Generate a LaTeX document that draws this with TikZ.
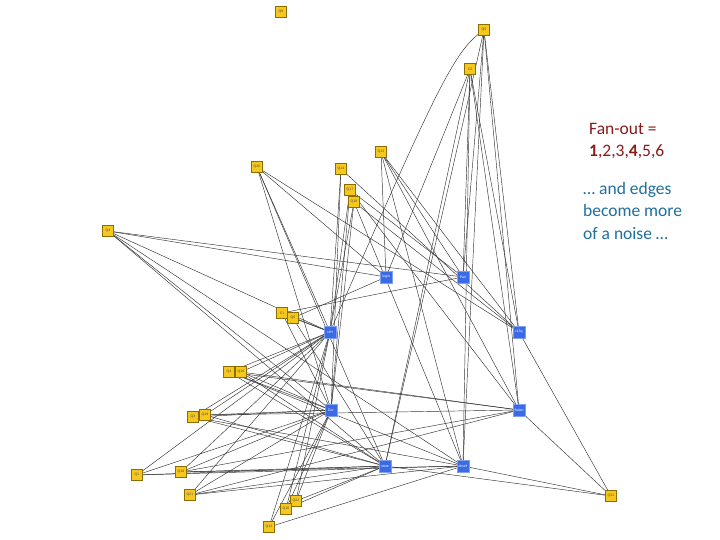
\documentclass[tikz,border=0pt]{standalone}
\usepackage{fontspec}
\setmainfont{Carlito}
\newfontfamily\lblfont{Liberation Sans}
\definecolor{qyel}{HTML}{F6C81E}
\definecolor{qyelb}{HTML}{8C6E00}
\definecolor{qblue}{HTML}{3A6AE6}
\definecolor{qblueb}{HTML}{7FA0F0}
\definecolor{fanred}{HTML}{8B1A1A}
\definecolor{noiseblue}{HTML}{1F6E9E}
\definecolor{edgec}{HTML}{333333}
\begin{document}
\begin{tikzpicture}[x=1pt,y=-1pt,
  qnode/.style={draw=qyelb,fill=qyel,line width=0.5pt,minimum size=11pt,inner sep=0pt,font=\lblfont\fontsize{3.5}{4}\selectfont,text=black!70},
  cnode/.style={draw=qblueb,fill=qblue,line width=0.5pt,minimum size=12pt,inner sep=0pt,font=\lblfont\fontsize{3.5}{4}\selectfont,text=white},
  edge/.style={draw=edgec,line width=0.45pt}]
\useasboundingbox (0,0) rectangle (720,540);
\path
 (281,12) coordinate (q9)
 (484,30) coordinate (q5)
 (470,69) coordinate (c2)
 (381,152) coordinate (q13)
 (257,167) coordinate (q20)
 (341,169) coordinate (q14)
 (350,190) coordinate (q17)
 (354,202) coordinate (q18)
 (108,231) coordinate (q4)
 (282,313) coordinate (c1)
 (293,318) coordinate (q6)
 (229,372) coordinate (q4b)
 (241,372) coordinate (q16)
 (193,417) coordinate (q3)
 (205,415) coordinate (q19)
 (137,475) coordinate (q1)
 (181,472) coordinate (q18b)
 (190,495) coordinate (q21)
 (296,501) coordinate (q22)
 (286,509) coordinate (q16b)
 (269,527) coordinate (q12)
 (611,496) coordinate (q31)
 (386,277) coordinate (login)
 (463,277) coordinate (pair)
 (330,332) coordinate (r4h)
 (519,332) coordinate (r13q)
 (331,410) coordinate (dor)
 (519,410) coordinate (balan)
 (385,466) coordinate (store)
 (463,466) coordinate (dmefi);
\foreach \a/\b in {q5/pair,q5/balan,q5/dmefi,q5/r13q,q5/store,
  c2/pair,c2/dmefi,c2/balan,c2/r13q,c2/login,c2/store,
  q13/pair,q13/r13q,q13/balan,q13/dmefi,q13/login,
  q20/r4h,q20/dor,q20/login,q20/store,q20/r13q,
  q14/r4h,q14/r13q,q14/dor,
  q17/r4h,q17/dor,q17/pair,q17/balan,
  q18/r4h,q18/r13q,q18/dmefi,q18/dor,
  q4/login,q4/r4h,q4/dor,q4/store,q4/pair,q4/dmefi,
  c1/r4h,c1/pair,c1/dor,
  q6/r4h,q6/login,q6/store,
  q4b/r4h,q4b/dor,q4b/store,q4b/balan,q4b/dmefi,
  q16/r4h,q16/dor,q16/store,q16/balan,
  q3/r4h,q3/dor,q3/store,q3/dmefi,
  q19/r4h,q19/dor,q19/balan,q19/store,
  q1/r4h,q1/dor,q1/store,q1/dmefi,
  q18b/r4h,q18b/dor,q18b/store,q18b/balan,q18b/dmefi,
  q21/r4h,q21/dor,q21/store,q21/balan,q21/dmefi,
  q22/r4h,q22/dor,q22/store,
  q16b/r4h,q16b/dor,q16b/store,
  q12/r4h,q12/dor,q12/dmefi,
  q31/r13q,q31/balan,q31/dmefi,q31/store}
  {\draw[edge] (\a) -- (\b);}
\draw[edge] (q5) .. controls (455,50) and (440,80) .. (r4h);
% nodes
\node[qnode] (n9) at (q9) {Q9};
\node[qnode] (n5) at (q5) {Q5};
\node[qnode] (nc2) at (c2) {C2};
\node[qnode] (n13) at (q13) {Q13};
\node[qnode] (n20) at (q20) {Q20};
\node[qnode] (n14) at (q14) {Q14};
\node[qnode] (n17) at (q17) {Q17};
\node[qnode] (n18) at (q18) {Q18};
\node[qnode] (n4) at (q4) {Q4};
\node[qnode] (nc1) at (c1) {C1};
\node[qnode] (n6) at (q6) {Q6};
\node[qnode] (n4b) at (q4b) {Q4};
\node[qnode] (n16) at (q16) {Q16};
\node[qnode] (n3) at (q3) {Q3};
\node[qnode] (n19) at (q19) {Q19};
\node[qnode] (n1) at (q1) {Q1};
\node[qnode] (n18b) at (q18b) {Q18};
\node[qnode] (n21) at (q21) {Q21};
\node[qnode] (n22) at (q22) {Q22};
\node[qnode] (n16b) at (q16b) {Q16};
\node[qnode] (n12) at (q12) {Q12};
\node[qnode] (n31) at (q31) {Q31};
\node[cnode] (nlogin) at (login) {login};
\node[cnode] (npair) at (pair) {Pair};
\node[cnode] (nr4h) at (r4h) {r4H};
\node[cnode] (nr13q) at (r13q) {r13q};
\node[cnode] (ndor) at (dor) {Dor};
\node[cnode] (nbalan) at (balan) {Balan};
\node[cnode] (nstore) at (store) {store};
\node[cnode] (ndmefi) at (dmefi) {dmefi};
% texts
\node[anchor=north west,inner sep=0pt,align=left,text=fanred,font=\fontsize{17.5}{22}\selectfont] (fan) at (589,123) {Fan-out =\\\textbf{1},2,3,\textbf{4},5,6};
\node[anchor=north west,inner sep=0pt,align=left,text=noiseblue,font=\fontsize{17.5}{22.5}\selectfont] (noise) at (583,182) {\dots\ and edges\\become more\\of a noise \dots};
\end{tikzpicture}
\end{document}
